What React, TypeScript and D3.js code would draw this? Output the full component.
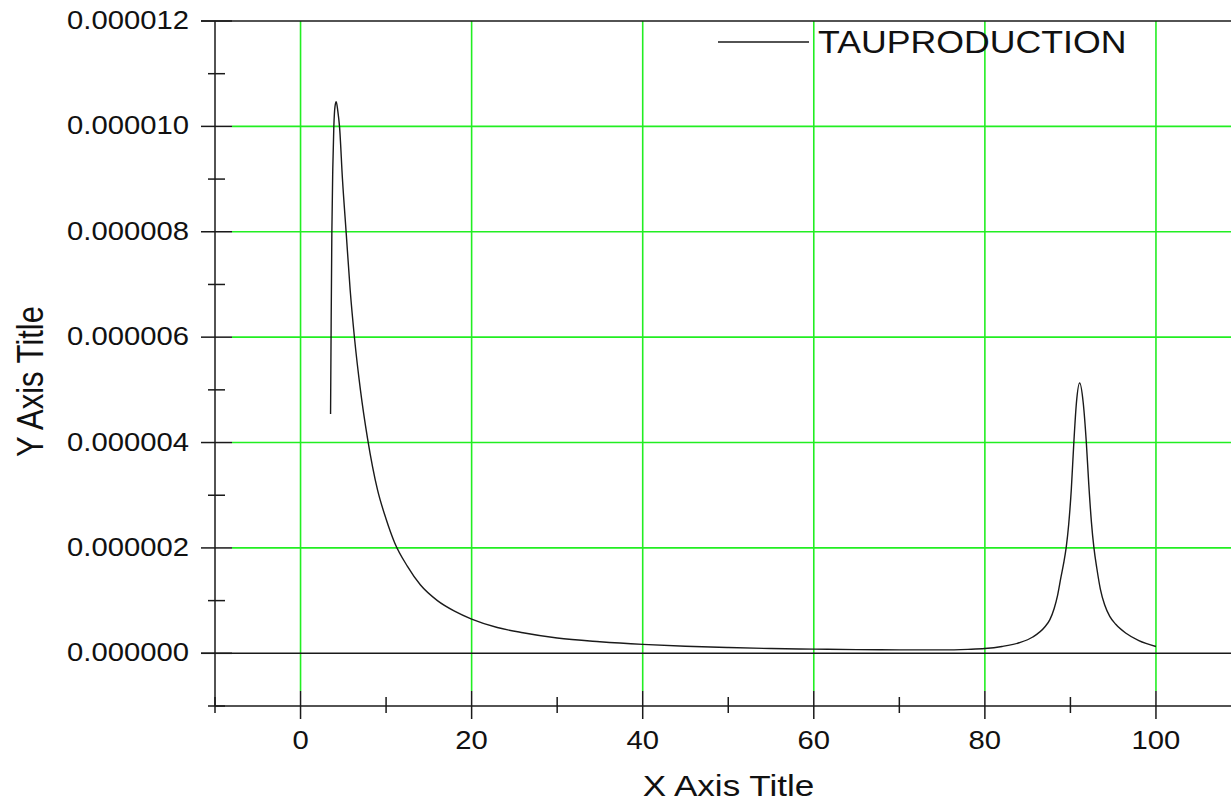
import React from 'react';
import * as d3 from 'd3';

// Series (x, y in units of 1e-6)
const xValues = [
  3.51, 3.58, 3.66, 3.77, 3.89, 4.03, 4.17, 4.35, 4.56, 4.9, 5.34, 5.8, 6.31, 7.0, 7.83,
  9.0, 10.0, 11.0, 12.5, 14, 16, 18, 20, 23, 26, 30, 35, 40, 45, 50, 55, 60, 65, 70, 75,
  78, 80, 82, 84, 85.6, 87.0, 87.6, 88.1, 88.5, 88.9, 89.2, 89.5, 89.8, 90.1, 90.4, 90.7,
  91.08, 91.5, 91.86, 92.15, 92.45, 92.75, 93.1, 93.5, 94.0, 94.6, 95.3, 96.5, 98, 100,
];
const yValuesMicro = [
  4.54, 6.3, 7.97, 9.2, 9.99, 10.38, 10.47, 10.3, 9.99, 9.0, 7.97, 6.9, 5.98, 5.0, 4.08,
  3.1, 2.55, 2.1, 1.65, 1.3, 1.0, 0.8, 0.65, 0.49, 0.39, 0.29, 0.22, 0.17, 0.135, 0.11,
  0.09, 0.08, 0.07, 0.065, 0.065, 0.075, 0.09, 0.13, 0.2, 0.31, 0.5, 0.64, 0.85, 1.1, 1.45,
  1.7, 2.0, 2.45, 3.1, 4.0, 4.75, 5.13, 4.75, 4.0, 3.2, 2.5, 2.0, 1.6, 1.22, 0.92, 0.7,
  0.55, 0.38, 0.24, 0.13,
];
const seriesName = 'TAUPRODUCTION';
const xMajorTicks = [0, 20, 40, 60, 80, 100];
const xMinorTicks = [-10, 10, 30, 50, 70, 90, 110];
const yMajorTicks = [0, 2e-6, 4e-6, 6e-6, 8e-6, 1e-5, 1.2e-5];
const yMinorTicks = [-1e-6, 1e-6, 3e-6, 5e-6, 7e-6, 9e-6, 1.1e-5];
const xTitle = 'X Axis Title';
const yTitle = 'Y Axis Title';

const W = 1231;
const H = 803;
const SX = 1.17; // horizontal stretch of the text in the picture
const AXIS = '#1a1a1a';
const GRID = '#22ee22';
const FONT = '"Liberation Sans", Arial, sans-serif';

export default function App() {
  const x = d3.scaleLinear().domain([-10, 110]).range([215, 1241.5]);
  const y = d3.scaleLinear().domain([-1e-6, 1.2e-5]).range([706, 21]);
  const data = xValues.map((v, i) => [v, yValuesMicro[i] * 1e-6] as [number, number]);
  const line = d3
    .line<[number, number]>()
    .x((d) => x(d[0]))
    .y((d) => y(d[1]))
    .curve(d3.curveMonotoneX);

  const x0 = x(-10);
  const yBottom = y(-1e-6);
  const yTop = y(1.2e-5);

  return (
    <svg
      width={W}
      height={H}
      style={{ position: 'absolute', left: 0, top: 0, background: '#fff' }}
      fontFamily={FONT}
    >
      <rect x={0} y={0} width={W} height={H} fill="#fff" />
      {/* vertical grid */}
      {xMajorTicks.map((t) => (
        <line key={'vg' + t} x1={x(t)} x2={x(t)} y1={yTop} y2={yBottom - 15} stroke={GRID} strokeWidth={1.6} />
      ))}
      {/* horizontal grid */}
      {yMajorTicks
        .filter((t) => t !== 0 && t !== 1.2e-5)
        .map((t) => (
          <line key={'hg' + t} x1={x0 + 17} x2={W} y1={y(t)} y2={y(t)} stroke={GRID} strokeWidth={1.6} />
        ))}
      {/* zero line and top line */}
      <line x1={x0 - 14} x2={W} y1={y(0)} y2={y(0)} stroke={AXIS} strokeWidth={1.5} />
      <line x1={x0 - 14} x2={W} y1={yTop} y2={yTop} stroke={AXIS} strokeWidth={1.5} />
      {/* axes */}
      <line x1={x0} x2={x0} y1={yTop} y2={yBottom} stroke={AXIS} strokeWidth={1.5} />
      <line x1={x0} x2={W} y1={yBottom} y2={yBottom} stroke={AXIS} strokeWidth={1.5} />
      {/* y ticks */}
      {yMajorTicks.map((t) => (
        <line key={'yt' + t} x1={x0 - 14} x2={x0 + 17} y1={y(t)} y2={y(t)} stroke={AXIS} strokeWidth={1.5} />
      ))}
      {yMinorTicks.map((t) => (
        <line key={'ym' + t} x1={x0 - 7} x2={x0 + 10} y1={y(t)} y2={y(t)} stroke={AXIS} strokeWidth={1.5} />
      ))}
      {/* x ticks */}
      {xMajorTicks.map((t) => (
        <line key={'xt' + t} x1={x(t)} x2={x(t)} y1={yBottom - 15} y2={yBottom + 13} stroke={AXIS} strokeWidth={1.5} />
      ))}
      {xMinorTicks.map((t) => (
        <line key={'xm' + t} x1={x(t)} x2={x(t)} y1={yBottom - 9} y2={yBottom + 7} stroke={AXIS} strokeWidth={1.5} />
      ))}
      {/* tick labels */}
      {yMajorTicks.map((t) => (
        <text
          key={'yl' + t}
          transform={`translate(189,${y(t) + 8}) scale(${SX},1)`}
          textAnchor="end"
          fontSize={25}
          fill="#111"
        >
          {t.toFixed(6)}
        </text>
      ))}
      {xMajorTicks.map((t) => (
        <text
          key={'xl' + t}
          transform={`translate(${x(t)},749) scale(${SX},1)`}
          textAnchor="middle"
          fontSize={25}
          fill="#111"
        >
          {String(t)}
        </text>
      ))}
      {/* axis titles */}
      <text transform={`translate(728.5,796) scale(${SX},1)`} textAnchor="middle" fontSize={30} fill="#111">
        {xTitle}
      </text>
      <text transform={`translate(43,381.5) scale(${SX},1) rotate(-90)`} textAnchor="middle" fontSize={31} fill="#111">
        {yTitle}
      </text>
      {/* series */}
      <path d={line(data) || ''} fill="none" stroke="#1a1a1a" strokeWidth={1.4} />
      {/* legend */}
      <line x1={718} x2={809} y1={42} y2={42} stroke="#1a1a1a" strokeWidth={1.5} />
      <text transform={`translate(818,53) scale(${SX},1)`} fontSize={30.5} fill="#111">
        {seriesName}
      </text>
    </svg>
  );
}
